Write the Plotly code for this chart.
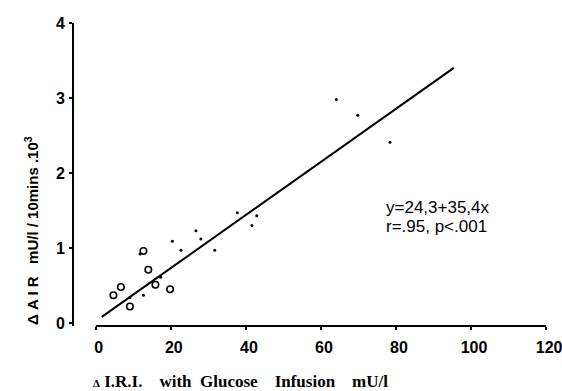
import plotly.graph_objects as go

# Open circles (x: delta IRI mU/l, y: delta AIR x10^3)
circ_x = [4.7, 6.7, 9.1, 12.7, 14.0, 15.9, 19.8]
circ_y = [0.37, 0.48, 0.22, 0.96, 0.71, 0.51, 0.45]

# Small filled dots
dot_x = [9.1, 11.8, 12.7, 17.3, 20.4, 22.7, 26.7, 28.0, 31.7, 37.7, 41.6, 42.9, 64.1, 69.8, 78.4]
dot_y = [0.34, 0.92, 0.37, 0.61, 1.09, 0.97, 1.23, 1.12, 0.97, 1.47, 1.30, 1.43, 2.98, 2.77, 2.41]

# Regression line y = 24.3 + 35.4x (in units of 10^3)
intercept = 24.3
slope = 35.4
line_x = [1.6, 95.4]
line_y = [(intercept + slope * v) / 1000 for v in line_x]

x_ticks = [0, 20, 40, 60, 80, 100, 120]
y_ticks = [0, 1, 2, 3, 4]

fig = go.Figure()
fig.add_trace(go.Scatter(x=line_x, y=line_y, mode="lines",
                         line=dict(color="black", width=2), showlegend=False))
fig.add_trace(go.Scatter(x=circ_x, y=circ_y, mode="markers",
                         marker=dict(symbol="circle-open", size=6.5, color="black",
                                     line=dict(width=1.6, color="black")),
                         showlegend=False))
fig.add_trace(go.Scatter(x=dot_x, y=dot_y, mode="markers",
                         marker=dict(symbol="circle", size=3, color="black"),
                         showlegend=False))

# x axis line from 0 to 120 only
fig.add_shape(type="line", xref="x", yref="paper", x0=0, x1=120, y0=0, y1=0,
              line=dict(color="black", width=2))

tickfont = dict(family="Liberation Sans, Arial, sans-serif", size=16, color="black",
                weight="bold")

fig.update_xaxes(range=[-5.8, 120.5], showgrid=False, zeroline=False, showline=False,
                 automargin=False, ticklabeloverflow="allow",
                 tickvals=x_ticks, ticktext=[str(v) for v in x_ticks],
                 ticks="outside", ticklen=3, tickwidth=1.5, tickcolor="black",
                 tickfont=tickfont, ticklabelshift=3, ticklabelstandoff=4)
fig.update_yaxes(range=[-0.04, 4.0], showgrid=False, zeroline=False, showline=True,
                 automargin=False, ticklabeloverflow="allow",
                 linecolor="black", linewidth=2,
                 tickvals=y_ticks, ticktext=[str(v) for v in y_ticks],
                 ticks="outside", ticklen=3, tickwidth=1.5, tickcolor="black",
                 tickfont=tickfont, ticklabelstandoff=1)

W, H = 562, 391
L, R, T, B = 74, 14, 23, 65
pw, ph = W - L - R, H - T - B


def px(xp):
    return (xp - L) / pw


def py(yp):
    return (H - B - yp) / ph


eqfont = dict(family="Liberation Sans, Arial, sans-serif", size=17, color="black")
fig.add_annotation(text="y=24,3+35,4x", xref="paper", yref="paper",
                   x=px(384), y=py(207), xanchor="left", yanchor="middle",
                   showarrow=False, font=eqfont)
fig.add_annotation(text="r=.95, p<.001", xref="paper", yref="paper",
                   x=px(384), y=py(226), xanchor="left", yanchor="middle",
                   showarrow=False, font=eqfont)

# Axis titles
fig.add_annotation(text="<b>Δ A I R&nbsp;&nbsp; mU/l / 10mins .10<sup>3</sup></b>",
                   xref="paper", yref="paper", x=px(31), y=py(231),
                   xanchor="center", yanchor="middle", textangle=-90, showarrow=False,
                   font=dict(family="Liberation Sans, Arial, sans-serif", size=15, color="black"))
fig.add_annotation(text="<b><span style='font-size:11px'>Δ</span> I.R.I.&nbsp;&nbsp;&nbsp; with&nbsp; Glucose&nbsp;&nbsp;&nbsp; Infusion&nbsp;&nbsp;&nbsp; mU/l</b>",
                   xref="paper", yref="paper", x=px(91), y=py(381),
                   xanchor="left", yanchor="middle", showarrow=False,
                   font=dict(family="Liberation Serif, Times New Roman, serif", size=17, color="black"))

fig.update_layout(width=W, height=H, margin=dict(l=L, r=R, t=T, b=B),
                  paper_bgcolor="white", plot_bgcolor="white")

fig.write_html("out.html", config={"displayModeBar": False},
               post_script="document.body.style.margin='0';")
